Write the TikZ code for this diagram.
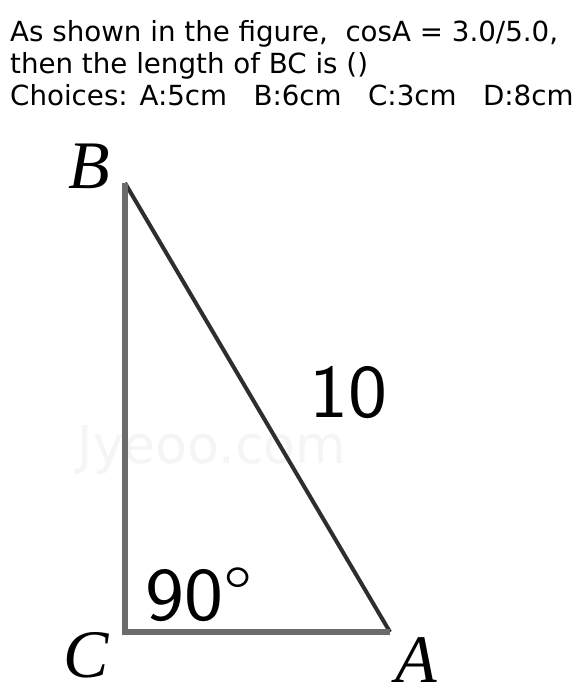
\documentclass[tikz,border=0pt]{standalone}
\usepackage{fontspec}
\usepackage{graphicx}
\setmainfont{DejaVu Sans}
\newfontfamily\lblfont{Liberation Serif}
\newfontfamily\numfont{Latin Modern Sans}
\newcommand{\widenum}[1]{\scalebox{1.09}[1]{#1}}
\begin{document}
\begin{tikzpicture}[x=1pt,y=-1pt,
  qline/.style={anchor=base west,inner sep=0pt,font=\fontsize{27.7}{32}\selectfont},
  vlabel/.style={inner sep=0pt,font=\lblfont\itshape\fontsize{68}{68}\selectfont},
  numlabel/.style={inner sep=0pt,anchor=base west,font=\numfont\fontsize{76}{76}\selectfont},
  legline/.style={line width=6pt,draw=black!58,line join=miter},
  hypline/.style={line width=4pt,draw=black!82,line cap=butt},
  wmark/.style={inner sep=0pt,text=black!4,font=\fontsize{52}{52}\selectfont}
]
\useasboundingbox (0,0) rectangle (580,698);
\fill[white] (0,0) rectangle (580,698);
\node[qline] (q1) at (10,42) {As shown in the figure,~ cosA = 3.0/5.0,};
\node[qline] (q2) at (10,74) {then the length of BC is ()};
\node[qline] (q3) at (10,106) {Choices: A:5cm~~~B:6cm~~~C:3cm~~~D:8cm};
\node[wmark] (wm) at (212,450) {Jyeoo.com};
\coordinate (B) at (125,183);
\coordinate (C) at (125,632);
\coordinate (A) at (390,632);
\draw[hypline] (B) -- (A);
\draw[legline] (B) -- (C) -- (A);
\node[vlabel] (lB) at (89,166) {B};
\node[vlabel] (lC) at (86,655) {C};
\node[vlabel] (lA) at (416,660) {A};
\node[numlabel] (n10) at (309,417) {\widenum{10}};
\node[numlabel] (n90) at (145,620) {\widenum{90°}};
\end{tikzpicture}
\end{document}
